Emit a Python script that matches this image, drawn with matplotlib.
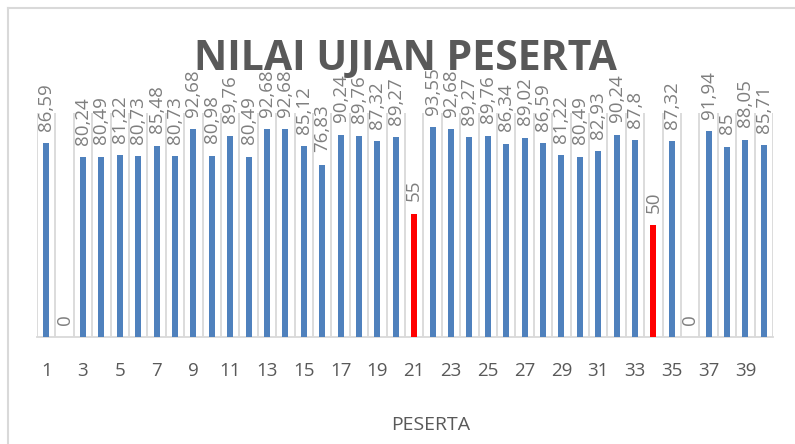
import matplotlib.pyplot as plt
from matplotlib.lines import Line2D

# --- data ---
peserta = list(range(1, 41))
nilai = [86.59, 0, 80.24, 80.49, 81.22, 80.73, 85.48, 80.73, 92.68, 80.98,
         89.76, 80.49, 92.68, 92.68, 85.12, 76.83, 90.24, 89.76, 87.32, 89.27,
         55, 93.55, 92.68, 89.27, 89.76, 86.34, 89.02, 86.59, 81.22, 80.49,
         82.93, 90.24, 87.8, 50, 87.32, 0, 91.94, 85, 88.05, 85.71]
batas_merah = 60  # nilai di bawah ini diberi warna merah

BLUE = "#4F81BD"
RED = "#FF0000"
GRID = "#D9D9D9"
TXT = "#595959"
LBL = "#7F7F7F"

fig = plt.figure(figsize=(7.95, 4.44), dpi=100)
ax = fig.add_axes([37 / 795, 1 - 337 / 444, 736 / 795, 224 / 444])

colors = [RED if (v < batas_merah and v > 0) else BLUE for v in nilai]
ax.bar(peserta, nilai, width=0.33, color=colors, zorder=3)

ax.set_xlim(0.5, 40.5)
ax.set_ylim(0, 100)

# garis pemisah kategori
for b in range(41):
    ax.axvline(b + 0.5, color=GRID, lw=1.3, zorder=1)

for s in ["top", "right", "left"]:
    ax.spines[s].set_visible(False)
ax.spines["bottom"].set_color(GRID)
ax.spines["bottom"].set_linewidth(1.3)
ax.set_yticks([])

ax.set_xticks(peserta[::2])
ax.set_xticklabels([str(p) for p in peserta[::2]])
ax.tick_params(axis="x", length=0, pad=18, labelsize=13.5, labelcolor=TXT)
for t in ax.get_xticklabels():
    t.set_fontfamily("Open Sans")

# label nilai
for x, v in zip(peserta, nilai):
    lab = ("%g" % v).replace(".", ",")
    ax.annotate(lab, (x, v), xytext=(0, 9), textcoords="offset points",
                rotation=90, ha="center", va="bottom", fontsize=13.5,
                color=LBL, family="Open Sans", annotation_clip=False, zorder=4)

fig.text(405 / 795, 1 - 60 / 444, "NILAI UJIAN PESERTA", ha="center", va="center",
         fontsize=29.5, fontweight="bold", color=TXT, family="Open Sans")
fig.text(431 / 795, 1 - 425 / 444, "PESERTA", ha="center", va="center",
         fontsize=14, color=TXT, family="Open Sans")

# bingkai chart
fig.add_artist(Line2D([7.5 / 795, 1], [1 - 8.5 / 444, 1 - 8.5 / 444],
                      transform=fig.transFigure, color=GRID, lw=1.5))
fig.add_artist(Line2D([7.5 / 795, 7.5 / 795], [0, 1 - 8.5 / 444],
                      transform=fig.transFigure, color=GRID, lw=1.5))

fig.savefig("out.png", dpi=100)
